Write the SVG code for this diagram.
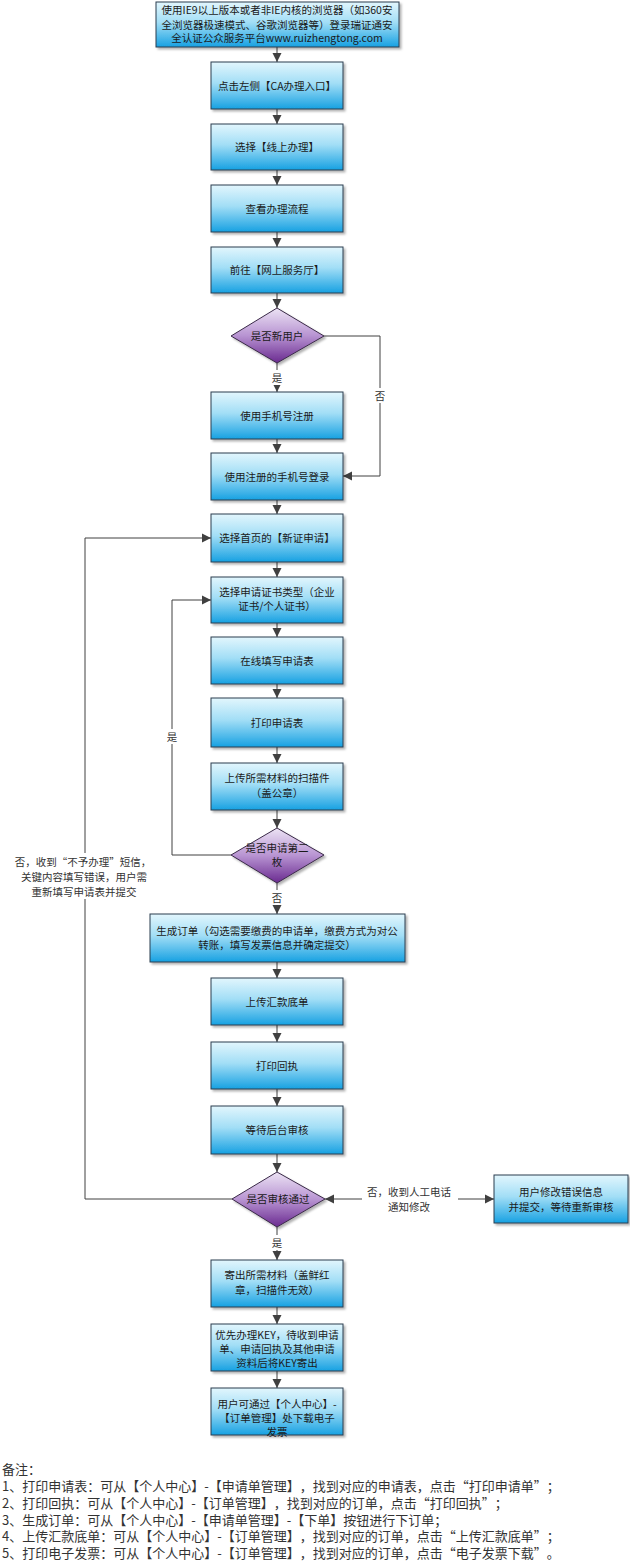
<svg xmlns="http://www.w3.org/2000/svg" width="630" height="1567" viewBox="0 0 630 1567">
<defs>
<linearGradient id="gBlue" x1="0" y1="0" x2="0" y2="1">
<stop offset="0" stop-color="#e2f6fd"/>
<stop offset="0.45" stop-color="#a2def6"/>
<stop offset="1" stop-color="#17a1e2"/>
</linearGradient>
<linearGradient id="gPurple" x1="0" y1="0" x2="0" y2="1">
<stop offset="0" stop-color="#ece3f4"/>
<stop offset="0.5" stop-color="#b894d2"/>
<stop offset="1" stop-color="#6a2a90"/>
</linearGradient>
<filter id="sh" x="-10%" y="-10%" width="130%" height="140%">
<feDropShadow dx="2" dy="2" stdDeviation="1" flood-color="#000" flood-opacity="0.3"/>
</filter>
<marker id="arr" markerWidth="10" markerHeight="10" refX="9" refY="5" orient="auto" markerUnits="userSpaceOnUse">
<path d="M0,0.5 L9,5 L0,9.5 Z" fill="#404040"/>
</marker>
<marker id="arrS" markerWidth="10" markerHeight="10" refX="9" refY="5" orient="auto-start-reverse" markerUnits="userSpaceOnUse">
<path d="M0,0.5 L9,5 L0,9.5 Z" fill="#404040"/>
</marker>
</defs>
<style>
text{text-spacing-trim:space-all}
.box{fill:url(#gBlue);stroke:#2b3d4f;stroke-width:1;filter:url(#sh)}
.dia{fill:url(#gPurple);stroke:#3a2a48;stroke-width:1;filter:url(#sh)}
.t{font-family:"Noto Sans CJK SC","Liberation Sans",sans-serif;font-size:10.5px;fill:#1a1a1a;text-anchor:middle}
.lbl{font-family:"Noto Sans CJK SC","Liberation Sans",sans-serif;font-size:10.5px;fill:#333;text-anchor:middle}
.note{font-family:"Noto Sans CJK SC","Liberation Sans",sans-serif;font-size:13px;fill:#333}
.c{fill:none;stroke:#404040;stroke-width:1}
.bg{fill:#fff}
</style>
<rect width="630" height="1567" fill="#fff"/>

<g id="connectors">
<line class="c" x1="277" y1="47" x2="277" y2="62" marker-end="url(#arr)"/>
<line class="c" x1="277" y1="109" x2="277" y2="124" marker-end="url(#arr)"/>
<line class="c" x1="277" y1="170" x2="277" y2="185" marker-end="url(#arr)"/>
<line class="c" x1="277" y1="232" x2="277" y2="247" marker-end="url(#arr)"/>
<line class="c" x1="277" y1="293" x2="277" y2="308" marker-end="url(#arr)"/>
<line class="c" x1="277" y1="363" x2="277" y2="392" marker-end="url(#arr)"/>
<line class="c" x1="277" y1="439" x2="277" y2="453" marker-end="url(#arr)"/>
<path class="c" d="M324,336 H380 V476 H343" marker-end="url(#arr)"/>
<line class="c" x1="277" y1="500" x2="277" y2="514" marker-end="url(#arr)"/>
<line class="c" x1="277" y1="562" x2="277" y2="577" marker-end="url(#arr)"/>
<line class="c" x1="277" y1="623" x2="277" y2="637" marker-end="url(#arr)"/>
<line class="c" x1="277" y1="684" x2="277" y2="698" marker-end="url(#arr)"/>
<line class="c" x1="277" y1="747" x2="277" y2="763" marker-end="url(#arr)"/>
<line class="c" x1="277" y1="810" x2="277" y2="828" marker-end="url(#arr)"/>
<path class="c" d="M231,855 H172 V600 H211" marker-end="url(#arr)"/>
<line class="c" x1="277" y1="883" x2="277" y2="914" marker-end="url(#arr)"/>
<line class="c" x1="277" y1="962" x2="277" y2="978" marker-end="url(#arr)"/>
<line class="c" x1="277" y1="1025" x2="277" y2="1042" marker-end="url(#arr)"/>
<line class="c" x1="277" y1="1089" x2="277" y2="1106" marker-end="url(#arr)"/>
<line class="c" x1="277" y1="1154" x2="277" y2="1172" marker-end="url(#arr)"/>
<path class="c" d="M232,1199 H85 V538 H211" marker-end="url(#arr)"/>
<line class="c" x1="325" y1="1199" x2="494" y2="1199" marker-start="url(#arrS)" marker-end="url(#arr)"/>
<line class="c" x1="277" y1="1227" x2="277" y2="1260" marker-end="url(#arr)"/>
<line class="c" x1="277" y1="1307" x2="277" y2="1324" marker-end="url(#arr)"/>
<line class="c" x1="277" y1="1371" x2="277" y2="1388" marker-end="url(#arr)"/>
<g id="connector-labels">
<rect class="bg" x="270" y="370" width="14" height="15"/>
<text class="lbl" x="277" y="382">是</text>
<rect class="bg" x="373" y="388" width="14" height="15"/>
<text class="lbl" x="380" y="400">否</text>
<rect class="bg" x="165" y="729" width="14" height="15"/>
<text class="lbl" x="172" y="741">是</text>
<rect class="bg" x="270" y="890" width="14" height="15"/>
<text class="lbl" x="277" y="902">否</text>
<rect class="bg" x="10" y="853" width="148" height="46"/>
<text class="lbl" x="83" y="866">否，收到“不予办理”短信，</text>
<text class="lbl" x="84" y="881">关键内容填写错误，用户需</text>
<text class="lbl" x="84" y="896">重新填写申请表并提交</text>
<rect class="bg" x="362" y="1183" width="96" height="30"/>
<text class="lbl" x="409" y="1196">否，收到人工电话</text>
<text class="lbl" x="409" y="1211">通知修改</text>
<rect class="bg" x="270" y="1235" width="14" height="15"/>
<text class="lbl" x="277" y="1247">是</text>
</g>
</g>

<g id="n-start"><rect class="box" x="156" y="2" width="243" height="45"/>
<text class="t" x="277" y="14">使用IE9以上版本或者非IE内核的浏览器（如360安</text>
<text class="t" x="277" y="28.5">全浏览器极速模式、谷歌浏览器等）登录瑞证通安</text>
<text class="t" x="277" y="42">全认证公众服务平台www.ruizhengtong.com</text></g>

<g id="n-ca"><rect class="box" x="211" y="62" width="132" height="47"/>
<text class="t" x="277" y="89.5">点击左侧【CA办理入口】</text></g>
<g id="n-online"><rect class="box" x="211" y="124" width="132" height="46"/>
<text class="t" x="277" y="151">选择【线上办理】</text></g>
<g id="n-flow"><rect class="box" x="211" y="185" width="132" height="47"/>
<text class="t" x="277" y="212.5">查看办理流程</text></g>
<g id="n-hall"><rect class="box" x="211" y="247" width="132" height="46"/>
<text class="t" x="277" y="274">前往【网上服务厅】</text></g>
<g id="d-newuser"><polygon class="dia" points="277,308 324,336 277,363 231,336"/>
<text class="t" x="277" y="340">是否新用户</text></g>
<g id="n-register"><rect class="box" x="211" y="392" width="132" height="47"/>
<text class="t" x="277" y="419.5">使用手机号注册</text></g>
<g id="n-login"><rect class="box" x="211" y="453" width="132" height="47"/>
<text class="t" x="277" y="480.5">使用注册的手机号登录</text></g>
<g id="n-newcert"><rect class="box" x="211" y="514" width="132" height="48"/>
<text class="t" x="277" y="542">选择首页的【新证申请】</text></g>
<g id="n-type"><rect class="box" x="211" y="577" width="132" height="46"/>
<text class="t" x="277" y="596">选择申请证书类型（企业</text>
<text class="t" x="277" y="610">证书/个人证书）</text></g>
<g id="n-fill"><rect class="box" x="211" y="637" width="132" height="47"/>
<text class="t" x="277" y="664.5">在线填写申请表</text></g>
<g id="n-print"><rect class="box" x="211" y="698" width="132" height="49"/>
<text class="t" x="277" y="726.5">打印申请表</text></g>
<g id="n-upload"><rect class="box" x="211" y="763" width="132" height="47"/>
<text class="t" x="277" y="782">上传所需材料的扫描件</text>
<text class="t" x="277" y="797">（盖公章）</text></g>
<g id="d-second"><polygon class="dia" points="277,828 324,855 277,883 231,855"/>
<text class="t" x="277" y="852">是否申请第二</text>
<text class="t" x="277" y="866">枚</text></g>
<g id="n-order"><rect class="box" x="150" y="914" width="255" height="48"/>
<text class="t" x="277" y="935">生成订单（勾选需要缴费的申请单，缴费方式为对公</text>
<text class="t" x="277" y="949">转账，填写发票信息并确定提交）</text></g>
<g id="n-remit"><rect class="box" x="211" y="978" width="132" height="47"/>
<text class="t" x="277" y="1005.5">上传汇款底单</text></g>
<g id="n-receipt"><rect class="box" x="211" y="1042" width="132" height="47"/>
<text class="t" x="277" y="1069.5">打印回执</text></g>
<g id="n-wait"><rect class="box" x="211" y="1106" width="132" height="48"/>
<text class="t" x="277" y="1134">等待后台审核</text></g>
<g id="d-review"><polygon class="dia" points="277,1172 325,1199 277,1227 232,1199"/>
<text class="t" x="278" y="1203">是否审核通过</text></g>
<g id="n-fix"><rect class="box" x="494" y="1175" width="134" height="48"/>
<text class="t" x="561" y="1196">用户修改错误信息</text>
<text class="t" x="561" y="1211">并提交，等待重新审核</text></g>
<g id="n-send"><rect class="box" x="211" y="1260" width="132" height="47"/>
<text class="t" x="277" y="1279">寄出所需材料（盖鲜红</text>
<text class="t" x="277" y="1294">章，扫描件无效）</text></g>
<g id="n-key"><rect class="box" x="211" y="1324" width="132" height="47"/>
<text class="t" x="277" y="1339">优先办理KEY，待收到申请</text>
<text class="t" x="277" y="1353">单、申请回执及其他申请</text>
<text class="t" x="277" y="1367">资料后将KEY寄出</text></g>
<g id="n-invoice"><rect class="box" x="211" y="1388" width="132" height="47"/>
<text class="t" x="277" y="1408">用户可通过【个人中心】-</text>
<text class="t" x="277" y="1422">【订单管理】处下载电子</text>
<text class="t" x="277" y="1436">发票</text></g>

<g id="notes">
<text class="note" x="2" y="1474">备注：</text>
<text class="note" x="2" y="1491">1、打印申请表：可从【个人中心】-【申请单管理】，找到对应的申请表，点击“打印申请单”；</text>
<text class="note" x="2" y="1508">2、打印回执：可从【个人中心】-【订单管理】，找到对应的订单，点击“打印回执”；</text>
<text class="note" x="2" y="1525">3、生成订单：可从【个人中心】-【申请单管理】-【下单】按钮进行下订单；</text>
<text class="note" x="2" y="1541">4、上传汇款底单：可从【个人中心】-【订单管理】，找到对应的订单，点击“上传汇款底单”；</text>
<text class="note" x="2" y="1558">5、打印电子发票：可从【个人中心】-【订单管理】，找到对应的订单，点击“电子发票下载”。</text>
</g>
</svg>
